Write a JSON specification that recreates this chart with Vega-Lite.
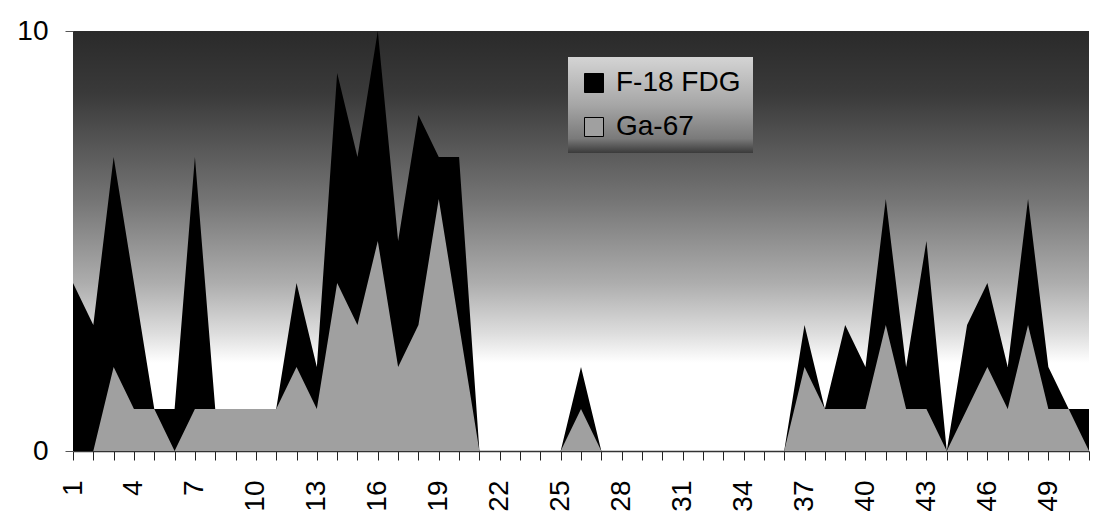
{
  "$schema": "https://vega.github.io/schema/vega-lite/v6.json",
  "autosize": {"type": "none"},
  "width": 1016,
  "height": 420,
  "padding": {"left": 73, "top": 31, "right": 14, "bottom": 73},
  "background": "#ffffff",
  "config": {
    "font": "Liberation Sans",
    "view": {
      "stroke": null,
      "fill": {
        "gradient": "linear", "x1": 0, "y1": 0, "x2": 0, "y2": 1,
        "stops": [
          {"offset": 0, "color": "#2a2a2a"},
          {"offset": 0.15, "color": "#3a3a3a"},
          {"offset": 0.4, "color": "#747474"},
          {"offset": 0.6, "color": "#adadad"},
          {"offset": 0.72, "color": "#dddddd"},
          {"offset": 0.79, "color": "#ffffff"},
          {"offset": 1, "color": "#ffffff"}
        ]
      }
    }
  },
  "data": {
    "values": [
      {"n":1,"series":"F-18 FDG","v":4},{"n":2,"series":"F-18 FDG","v":3},{"n":3,"series":"F-18 FDG","v":7},{"n":4,"series":"F-18 FDG","v":4},{"n":5,"series":"F-18 FDG","v":1},{"n":6,"series":"F-18 FDG","v":1},{"n":7,"series":"F-18 FDG","v":7},{"n":8,"series":"F-18 FDG","v":1},{"n":9,"series":"F-18 FDG","v":1},{"n":10,"series":"F-18 FDG","v":1},
      {"n":11,"series":"F-18 FDG","v":1},{"n":12,"series":"F-18 FDG","v":4},{"n":13,"series":"F-18 FDG","v":2},{"n":14,"series":"F-18 FDG","v":9},{"n":15,"series":"F-18 FDG","v":7},{"n":16,"series":"F-18 FDG","v":10},{"n":17,"series":"F-18 FDG","v":5},{"n":18,"series":"F-18 FDG","v":8},{"n":19,"series":"F-18 FDG","v":7},{"n":20,"series":"F-18 FDG","v":7},
      {"n":21,"series":"F-18 FDG","v":0},{"n":22,"series":"F-18 FDG","v":0},{"n":23,"series":"F-18 FDG","v":0},{"n":24,"series":"F-18 FDG","v":0},{"n":25,"series":"F-18 FDG","v":0},{"n":26,"series":"F-18 FDG","v":2},{"n":27,"series":"F-18 FDG","v":0},{"n":28,"series":"F-18 FDG","v":0},{"n":29,"series":"F-18 FDG","v":0},{"n":30,"series":"F-18 FDG","v":0},
      {"n":31,"series":"F-18 FDG","v":0},{"n":32,"series":"F-18 FDG","v":0},{"n":33,"series":"F-18 FDG","v":0},{"n":34,"series":"F-18 FDG","v":0},{"n":35,"series":"F-18 FDG","v":0},{"n":36,"series":"F-18 FDG","v":0},{"n":37,"series":"F-18 FDG","v":3},{"n":38,"series":"F-18 FDG","v":1},{"n":39,"series":"F-18 FDG","v":3},{"n":40,"series":"F-18 FDG","v":2},
      {"n":41,"series":"F-18 FDG","v":6},{"n":42,"series":"F-18 FDG","v":2},{"n":43,"series":"F-18 FDG","v":5},{"n":44,"series":"F-18 FDG","v":0},{"n":45,"series":"F-18 FDG","v":3},{"n":46,"series":"F-18 FDG","v":4},{"n":47,"series":"F-18 FDG","v":2},{"n":48,"series":"F-18 FDG","v":6},{"n":49,"series":"F-18 FDG","v":2},{"n":50,"series":"F-18 FDG","v":1},
      {"n":51,"series":"F-18 FDG","v":1},
      {"n":1,"series":"Ga-67","v":0},{"n":2,"series":"Ga-67","v":0},{"n":3,"series":"Ga-67","v":2},{"n":4,"series":"Ga-67","v":1},{"n":5,"series":"Ga-67","v":1},{"n":6,"series":"Ga-67","v":0},{"n":7,"series":"Ga-67","v":1},{"n":8,"series":"Ga-67","v":1},{"n":9,"series":"Ga-67","v":1},{"n":10,"series":"Ga-67","v":1},
      {"n":11,"series":"Ga-67","v":1},{"n":12,"series":"Ga-67","v":2},{"n":13,"series":"Ga-67","v":1},{"n":14,"series":"Ga-67","v":4},{"n":15,"series":"Ga-67","v":3},{"n":16,"series":"Ga-67","v":5},{"n":17,"series":"Ga-67","v":2},{"n":18,"series":"Ga-67","v":3},{"n":19,"series":"Ga-67","v":6},{"n":20,"series":"Ga-67","v":3},
      {"n":21,"series":"Ga-67","v":0},{"n":22,"series":"Ga-67","v":0},{"n":23,"series":"Ga-67","v":0},{"n":24,"series":"Ga-67","v":0},{"n":25,"series":"Ga-67","v":0},{"n":26,"series":"Ga-67","v":1},{"n":27,"series":"Ga-67","v":0},{"n":28,"series":"Ga-67","v":0},{"n":29,"series":"Ga-67","v":0},{"n":30,"series":"Ga-67","v":0},
      {"n":31,"series":"Ga-67","v":0},{"n":32,"series":"Ga-67","v":0},{"n":33,"series":"Ga-67","v":0},{"n":34,"series":"Ga-67","v":0},{"n":35,"series":"Ga-67","v":0},{"n":36,"series":"Ga-67","v":0},{"n":37,"series":"Ga-67","v":2},{"n":38,"series":"Ga-67","v":1},{"n":39,"series":"Ga-67","v":1},{"n":40,"series":"Ga-67","v":1},
      {"n":41,"series":"Ga-67","v":3},{"n":42,"series":"Ga-67","v":1},{"n":43,"series":"Ga-67","v":1},{"n":44,"series":"Ga-67","v":0},{"n":45,"series":"Ga-67","v":1},{"n":46,"series":"Ga-67","v":2},{"n":47,"series":"Ga-67","v":1},{"n":48,"series":"Ga-67","v":3},{"n":49,"series":"Ga-67","v":1},{"n":50,"series":"Ga-67","v":1},
      {"n":51,"series":"Ga-67","v":0}
    ]
  },
  "mark": {"type": "area", "interpolate": "linear", "opacity": 1},
  "encoding": {
    "x": {
      "field": "n", "type": "ordinal",
      "scale": {"type": "point", "padding": 0},
      "axis": {
        "title": null,
        "labelAngle": 270,
        "labelAlign": "right",
        "labelBaseline": "middle",
        "labelFontSize": 28,
        "labelColor": "#000000",
        "labelPadding": 20,
        "labelExpr": "(datum.value - 1) % 3 == 0 ? datum.label : ''",
        "tickSize": 9,
        "tickColor": "#222222",
        "tickWidth": 1,
        "domainColor": "#333333",
        "domainWidth": 1.5,
        "grid": false,
        "labelOverlap": false
      }
    },
    "y": {
      "field": "v", "type": "quantitative", "stack": null,
      "scale": {"domain": [0, 10], "nice": false},
      "axis": {
        "title": null,
        "values": [0, 10],
        "labelFontSize": 28,
        "labelColor": "#000000",
        "labelPadding": 17,
        "tickSize": 8,
        "tickColor": "#555555",
        "domain": false,
        "grid": false
      }
    },
    "color": {
      "field": "series", "type": "nominal",
      "scale": {"domain": ["F-18 FDG", "Ga-67"], "range": ["#000000", "#a0a0a0"]},
      "legend": {
        "title": null,
        "orient": "none",
        "legendX": 495,
        "legendY": 26,
        "padding": 12,
        "symbolType": "square",
        "symbolSize": 361,
        "symbolStrokeColor": "#000000",
        "symbolStrokeWidth": 1,
        "symbolOpacity": 1,
        "labelFontSize": 28,
        "labelColor": "#000000",
        "labelOffset": 8,
        "rowPadding": 16,
        "strokeColor": null,
        "labelLimit": 300,
        "encode": {
          "legend": {
            "update": {
              "fill": {"value": {
                "gradient": "linear", "x1": 0, "y1": 0, "x2": 0, "y2": 1,
                "stops": [
                  {"offset": 0, "color": "#d4d4d4"},
                  {"offset": 0.5, "color": "#a6a6a6"},
                  {"offset": 0.85, "color": "#7a7a7a"},
                  {"offset": 1, "color": "#3a3a3a"}
                ]
              }}
            }
          }
        }
      }
    }
  }
}
